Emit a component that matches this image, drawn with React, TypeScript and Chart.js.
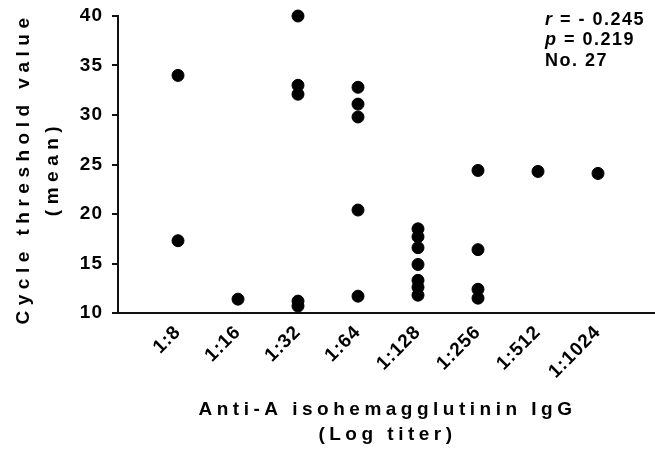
import React, { useEffect, useRef } from "react";
import { Chart, registerables } from "chart.js";

Chart.register(...registerables);

const categories = ["1:8", "1:16", "1:32", "1:64", "1:128", "1:256", "1:512", "1:1024"];
const ctValues: number[][] = [
  [34.0, 17.3],
  [11.4],
  [40.0, 33.0, 32.1, 11.2, 10.7],
  [32.8, 31.1, 29.8, 20.4, 11.7],
  [18.5, 17.7, 16.6, 14.9, 13.3, 12.6, 11.8],
  [24.4, 16.4, 12.4, 11.5],
  [24.3],
  [24.1],
];
const yTicks = [10, 15, 20, 25, 30, 35, 40];
const xTitleLines = ["Anti-A isohemagglutinin IgG", "(Log titer)"];
const yTitleLines = ["Cycle threshold value", "(mean)"];
const statItalic = ["r", "p", ""];
const statRest = [" = - 0.245", " = 0.219", "No. 27"];

const FONT = '"Liberation Sans", Arial, sans-serif';

const textPlugin = {
  id: "customText",
  beforeDraw(chart: any) {
    (chart.ctx as any).letterSpacing = "1px";
  },
  afterDraw(chart: any) {
    const ctx = chart.ctx as CanvasRenderingContext2D & { letterSpacing: string };
    const ca = chart.chartArea;
    ctx.save();
    ctx.fillStyle = "#000";
    ctx.textBaseline = "middle";
    ctx.textAlign = "center";
    // x title
    ctx.font = `bold 19px ${FONT}`;
    ctx.letterSpacing = "4.5px";
    const cx = (ca.left + ca.right) / 2 + 1;
    ctx.fillText(xTitleLines[0], cx, ca.bottom + 97);
    ctx.fillText(xTitleLines[1], cx, ca.bottom + 122);
    // y title
    ctx.font = `bold 19px ${FONT}`;
    ctx.letterSpacing = "5.5px";
    const cy = (ca.top + ca.bottom) / 2 + 4;
    ctx.save();
    ctx.translate(ca.left - 94, cy);
    ctx.rotate(-Math.PI / 2);
    ctx.fillText(yTitleLines[0], 0, 0);
    ctx.restore();
    ctx.save();
    ctx.translate(ca.left - 65, cy);
    ctx.rotate(-Math.PI / 2);
    ctx.fillText(yTitleLines[1], 0, 0);
    ctx.restore();
    // stats
    ctx.letterSpacing = "1.5px";
    ctx.textAlign = "left";
    const sx = ca.right - 110;
    statRest.forEach((t, i) => {
      const y = ca.top + 4 + i * 20.5;
      let x = sx;
      if (statItalic[i]) {
        ctx.font = `italic bold 18px ${FONT}`;
        ctx.fillText(statItalic[i], x, y);
        x += ctx.measureText(statItalic[i]).width;
      }
      ctx.font = `bold 18px ${FONT}`;
      ctx.fillText(t, x, y);
    });
    ctx.restore();
  },
};

export default function App() {
  const ref = useRef<HTMLCanvasElement>(null);
  useEffect(() => {
    document.body.style.margin = "0";
    const points: { x: number; y: number }[] = [];
    ctValues.forEach((vals, i) => vals.forEach((v) => points.push({ x: i + 1, y: v })));
    const chart = new Chart(ref.current!, {
      type: "scatter",
      data: {
        datasets: [
          {
            data: points,
            backgroundColor: "#000",
            borderColor: "#000",
            pointRadius: 6,
            pointHoverRadius: 6,
            clip: false as any,
          },
        ],
      },
      options: {
        animation: false,
        responsive: true,
        maintainAspectRatio: false,
        layout: { autoPadding: false, padding: { top: 16, right: 0, left: 0, bottom: 0 } },
        plugins: { legend: { display: false }, tooltip: { enabled: false } },
        scales: {
          x: {
            type: "linear",
            min: 0,
            max: 8.95,
            grid: { display: false, drawTicks: false },
            border: { display: true, color: "#111", width: 2 },
            afterBuildTicks: (scale: any) => {
              scale.ticks = categories.map((_, i) => ({ value: i + 1 }));
            },
            afterFit: (scale: any) => {
              scale.height = 136;
              scale.paddingLeft = 0;
              scale.paddingRight = 0;
            },
            ticks: {
              autoSkip: false,
              maxRotation: 45,
              minRotation: 45,
              padding: 8,
              color: "#000",
              font: { family: FONT, size: 19, weight: "bold" },
              callback: (v: any) => categories[Math.round(Number(v)) - 1] ?? "",
            },
          },
          y: {
            min: 10,
            max: 40,
            afterBuildTicks: (scale: any) => {
              scale.ticks = yTicks.map((v) => ({ value: v }));
            },
            afterFit: (scale: any) => {
              scale.width = 118;
              scale.paddingTop = 0;
              scale.paddingBottom = 0;
            },
            grid: { display: true, drawOnChartArea: false, drawTicks: true, tickLength: 6, color: "#111", lineWidth: 2 },
            border: { display: true, color: "#111", width: 2 },
            ticks: {
              padding: 9,
              color: "#000",
              font: { family: FONT, size: 19, weight: "bold" },
            },
          },
        },
      },
      plugins: [textPlugin],
    });
    return () => chart.destroy();
  }, []);
  return (
    <div style={{ width: 655, height: 449, position: "relative" }}>
      <canvas ref={ref} />
    </div>
  );
}
